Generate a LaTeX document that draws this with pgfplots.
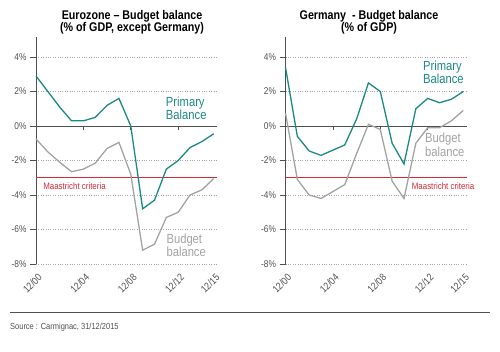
\documentclass[border=0pt]{standalone}
\usepackage{fontspec}
\setmainfont{Liberation Sans}[FakeStretch=0.85]
\usepackage{pgfplots}
\pgfplotsset{compat=1.18}
\definecolor{teal1}{HTML}{1B8A86}
\definecolor{gray1}{HTML}{A3A3A3}
\definecolor{red1}{HTML}{D42A3A}
\definecolor{tick1}{HTML}{505050}
\pgfplotsset{bb/.style={
  scale only axis, width=181.3pt, height=227pt,
  xmin=0, xmax=15.3, ymin=-8, ymax=5.16,
  axis lines=left, axis line style={-, draw=tick1, line width=0.8pt},
  x axis line style={draw=none},
  xtick={0,4,8,12,15}, xticklabels={12/00,12/04,12/08,12/12,12/15},
  xtick style={draw=none},
  x tick label style={rotate=45, anchor=north east, font=\fontsize{10.2}{11}\selectfont, text=tick1, inner sep=1pt, yshift=-2pt},
  ytick={-8,-6,-4,-2,0,2,4},
  yticklabels={-8\%,-6\%,-4\%,-2\%,0\%,2\%,4\%},
  y tick label style={font=\fontsize{9.8}{11}\selectfont, text=tick1},
  ytick style={draw=tick1, line width=0.8pt},
  tick align=outside, major tick length=6pt,
  ymajorgrids, grid style={dotted, gray!70, line width=0.6pt},
  clip=false,
}}
\begin{document}
\begin{tikzpicture}
\path (0pt,0pt) rectangle (500pt,351pt);
% titles
\node[anchor=base, font=\fontsize{12.6}{13}\selectfont\bfseries] at (132pt,331pt) {Eurozone -- Budget balance};
\node[anchor=base, font=\fontsize{12.6}{13}\selectfont\bfseries] at (132pt,319pt) {(\% of GDP, except Germany)};
\node[anchor=base, font=\fontsize{12.6}{13}\selectfont\bfseries] at (369pt,331pt) {Germany\ \ - Budget balance};
\node[anchor=base, font=\fontsize{12.6}{13}\selectfont\bfseries] at (369pt,319pt) {(\% of GDP)};
% left axis
\begin{axis}[bb, at={(36pt,87pt)}, anchor=south west]
\addplot[tick1, line width=1pt, forget plot] coordinates {(0,0) (15.3,0)};
\draw[tick1, line width=0.8pt] (axis cs:4,0) -- (axis cs:4,-0.22);
\draw[tick1, line width=0.8pt] (axis cs:8,0) -- (axis cs:8,-0.22);
\draw[tick1, line width=0.8pt] (axis cs:12,0) -- (axis cs:12,-0.22);
\addplot[red1, line width=0.9pt] coordinates {(0,-3) (15.3,-3)};
\addplot[gray1, line width=1.3pt] coordinates {
(0,-0.75) (1,-1.5) (2,-2.1) (3,-2.65) (4,-2.5) (5,-2.15) (6,-1.3) (7,-0.95)
(8,-2.8) (9,-7.2) (10,-6.85) (11,-5.3) (12,-5.0) (13,-4.0) (14,-3.7) (15,-3.05)};
\addplot[teal1, line width=1.3pt] coordinates {
(0,2.9) (1,2.0) (2,1.1) (3,0.3) (4,0.3) (5,0.5) (6,1.2) (7,1.6)
(8,0.0) (9,-4.8) (10,-4.3) (11,-2.5) (12,-2.0) (13,-1.25) (14,-0.9) (15,-0.45)};
\node[anchor=base west, text=red1, font=\fontsize{9.3}{10}\selectfont, inner sep=0pt] at (axis cs:0.6,-3.67) {Maastricht criteria};
\node[anchor=base west, text=teal1, font=\fontsize{13.2}{14}\selectfont, inner sep=0pt] at (axis cs:10.95,1.12) {Primary};
\node[anchor=base west, text=teal1, font=\fontsize{13.2}{14}\selectfont, inner sep=0pt] at (axis cs:10.95,0.39) {Balance};
\node[anchor=base west, text=gray1, font=\fontsize{13.2}{14}\selectfont, inner sep=0pt] at (axis cs:11.0,-6.8) {Budget};
\node[anchor=base west, text=gray1, font=\fontsize{13.2}{14}\selectfont, inner sep=0pt] at (axis cs:11.0,-7.58) {balance};
\end{axis}
% right axis
\begin{axis}[bb, at={(285.5pt,87pt)}, anchor=south west]
\addplot[tick1, line width=1pt, forget plot] coordinates {(0,0) (15.3,0)};
\draw[tick1, line width=0.8pt] (axis cs:4,0) -- (axis cs:4,-0.22);
\draw[tick1, line width=0.8pt] (axis cs:8,0) -- (axis cs:8,-0.22);
\draw[tick1, line width=0.8pt] (axis cs:12,0) -- (axis cs:12,-0.22);
\addplot[red1, line width=0.9pt] coordinates {(0,-3) (15.3,-3)};
\addplot[gray1, line width=1.3pt] coordinates {
(0,0.75) (1,-3.1) (2,-4.0) (3,-4.2) (4,-3.8) (5,-3.4) (6,-1.6) (7,0.1)
(8,-0.2) (9,-3.2) (10,-4.2) (11,-1.0) (12,-0.1) (13,-0.1) (14,0.3) (15,0.9)};
\addplot[teal1, line width=1.3pt] coordinates {
(0,3.4) (1,-0.6) (2,-1.45) (3,-1.7) (4,-1.4) (5,-1.1) (6,0.4) (7,2.5)
(8,2.0) (9,-1.0) (10,-2.2) (11,1.0) (12,1.6) (13,1.35) (14,1.55) (15,2.0)};
\node[anchor=base west, text=red1, font=\fontsize{9.3}{10}\selectfont, inner sep=0pt] at (axis cs:10.65,-3.67) {Maastricht criteria};
\node[anchor=base west, text=teal1, font=\fontsize{13.2}{14}\selectfont, inner sep=0pt] at (axis cs:11.6,3.2) {Primary};
\node[anchor=base west, text=teal1, font=\fontsize{13.2}{14}\selectfont, inner sep=0pt] at (axis cs:11.6,2.48) {Balance};
\node[anchor=base west, text=gray1, font=\fontsize{13.2}{14}\selectfont, inner sep=0pt] at (axis cs:11.77,-0.97) {Budget};
\node[anchor=base west, text=gray1, font=\fontsize{13.2}{14}\selectfont, inner sep=0pt] at (axis cs:11.77,-1.74) {balance};
\end{axis}
% footer
\draw[tick1, line width=0.9pt] (10pt,39pt) -- (490pt,39pt);
\node[anchor=base west, inner sep=0pt, text=tick1, font=\fontsize{8.8}{10}\selectfont] at (10pt,22pt) {Source : Carmignac, 31/12/2015};
\end{tikzpicture}
\end{document}
